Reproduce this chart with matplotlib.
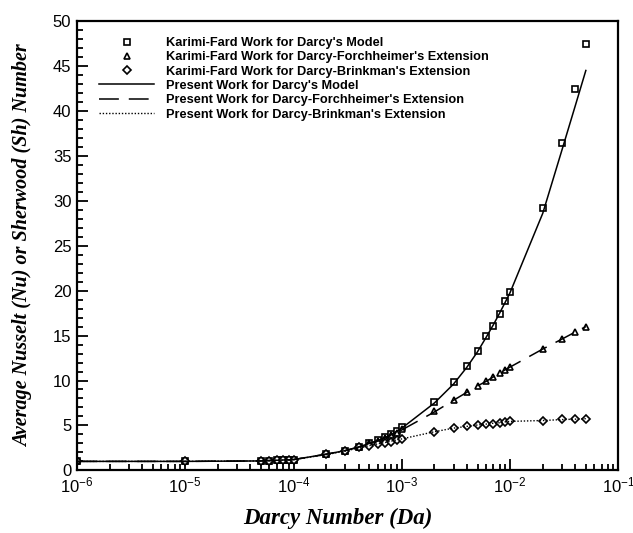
import matplotlib
matplotlib.use("Agg")
import matplotlib.pyplot as plt
from matplotlib.ticker import LogLocator, MultipleLocator, NullFormatter

plt.rcParams['font.family'] = ['Liberation Sans', 'DejaVu Sans']
plt.rcParams['mathtext.fontset'] = 'custom'
plt.rcParams['mathtext.rm'] = 'Liberation Sans'
plt.rcParams['mathtext.default'] = 'regular'

# Karimi-Fard reference points
kf_da = [1e-6, 1e-5, 5e-5, 6e-5, 7e-5, 8e-5, 9e-5, 1e-4,
         2e-4, 3e-4, 4e-4, 5e-4, 6e-4, 7e-4, 8e-4, 9e-4, 1e-3,
         2e-3, 3e-3, 4e-3, 5e-3, 6e-3, 7e-3, 8e-3, 9e-3, 1e-2,
         2e-2, 3e-2, 4e-2, 5e-2]
kf_darcy = [1.0, 1.0, 1.05, 1.05, 1.1, 1.15, 1.2, 1.2,
            1.8, 2.2, 2.6, 3.1, 3.4, 3.7, 4.0, 4.4, 4.8,
            7.6, 9.8, 11.6, 13.3, 14.9, 16.1, 17.4, 18.9, 19.9,
            29.2, 36.4, 42.4, 47.5]
kf_forch = [1.0, 1.0, 1.05, 1.05, 1.1, 1.15, 1.2, 1.2,
            1.8, 2.17, 2.6, 3.0, 3.3, 3.6, 3.9, 4.2, 4.6,
            6.6, 7.8, 8.75, 9.35, 9.9, 10.4, 10.8, 11.2, 11.5,
            13.5, 14.6, 15.4, 16.0]
kf_brink = [1.0, 1.0, 1.05, 1.05, 1.1, 1.15, 1.2, 1.2,
            1.8, 2.15, 2.55, 2.75, 2.9, 3.05, 3.2, 3.35, 3.5,
            4.3, 4.7, 4.9, 5.05, 5.15, 5.2, 5.3, 5.4, 5.5,
            5.5, 5.7, 5.7, 5.76]

# Present work curves
pw_da = [1e-6, 1e-5, 5e-5, 1e-4, 2e-4, 3e-4, 4e-4, 5e-4, 6e-4, 7e-4,
         8e-4, 9e-4, 1e-3, 2e-3, 3e-3, 4e-3, 5e-3, 6e-3, 7e-3, 8e-3,
         9e-3, 1e-2, 2e-2, 3e-2, 4e-2, 5e-2]
pw_darcy = [1.0, 1.0, 1.05, 1.2, 1.8, 2.2, 2.6, 3.0, 3.3, 3.65,
            4.0, 4.35, 4.7, 7.5, 9.6, 11.5, 13.2, 14.8, 16.2, 17.5,
            18.7, 19.8, 28.6, 35.6, 40.6, 44.5]
pw_forch = [1.0, 1.0, 1.05, 1.2, 1.8, 2.2, 2.6, 3.0, 3.3, 3.6,
            3.9, 4.2, 4.5, 6.5, 7.8, 8.7, 9.4, 9.9, 10.4, 10.8,
            11.2, 11.5, 13.5, 14.6, 15.4, 16.0]
pw_brink = [1.0, 1.0, 1.05, 1.2, 1.75, 2.15, 2.5, 2.75, 2.95, 3.1,
            3.25, 3.4, 3.5, 4.3, 4.7, 4.9, 5.05, 5.15, 5.25, 5.3,
            5.4, 5.45, 5.55, 5.65, 5.7, 5.75]

fig = plt.figure(figsize=(6.33, 5.33), dpi=100)
ax = fig.add_axes([0.1215, 0.1175, 0.8555, 0.843])

mk = dict(linestyle='none', markerfacecolor='white', markeredgecolor='black',
          markeredgewidth=1.2)
ax.plot(kf_da, kf_darcy, marker='s', markersize=4.2, label="Karimi-Fard Work for Darcy's Model", **mk)
ax.plot(kf_da, kf_forch, marker='^', markersize=5, label="Karimi-Fard Work for Darcy-Forchheimer's Extension", **mk)
ax.plot(kf_da, kf_brink, marker='D', markersize=4.2, label="Karimi-Fard Work for Darcy-Brinkman's Extension", **mk)
ax.plot(pw_da, pw_darcy, color='black', lw=1.1, label="Present Work for Darcy's Model")
ax.plot(pw_da, pw_forch, color='black', lw=1.1, dashes=(13, 6.5),
        label="Present Work for Darcy-Forchheimer's Extension")
ax.plot(pw_da, pw_brink, color='black', lw=1.0, linestyle=(0, (1, 1.3)),
        label="Present Work for Darcy-Brinkman's Extension")

ax.set_xscale('log')
ax.set_xlim(1e-6, 1e-1)
ax.set_ylim(0, 50)
ax.xaxis.set_major_locator(LogLocator(base=10, numticks=10))
ax.xaxis.set_minor_locator(LogLocator(base=10, subs=range(2, 10), numticks=20))
ax.xaxis.set_minor_formatter(NullFormatter())
ax.yaxis.set_major_locator(MultipleLocator(5))
ax.yaxis.set_minor_locator(MultipleLocator(1))

ax.tick_params(which='both', direction='in', top=False, right=False,
               labelsize=12, width=1.3)
ax.tick_params(which='major', length=8, pad=4)
ax.tick_params(which='minor', length=4)
for s in ax.spines.values():
    s.set_linewidth(1.6)

serif = ['Liberation Serif', 'DejaVu Serif']
ax.set_xlabel('Darcy Number (Da)', family=serif, weight='bold',
              style='italic', size=16.5)
ax.xaxis.set_label_coords(0.482, -0.083)
ax.set_ylabel('Average Nusselt (Nu) or Sherwood (Sh) Number', labelpad=14,
              family=serif, weight='bold', style='italic', size=14.5)

leg = ax.legend(loc='upper left', bbox_to_anchor=(0.02, 0.99), frameon=False,
                prop=dict(family='Liberation Sans', weight='bold', size=9.2),
                handlelength=4.3, handletextpad=0.9, labelspacing=0.18)

fig.savefig('out.png', dpi=100)
